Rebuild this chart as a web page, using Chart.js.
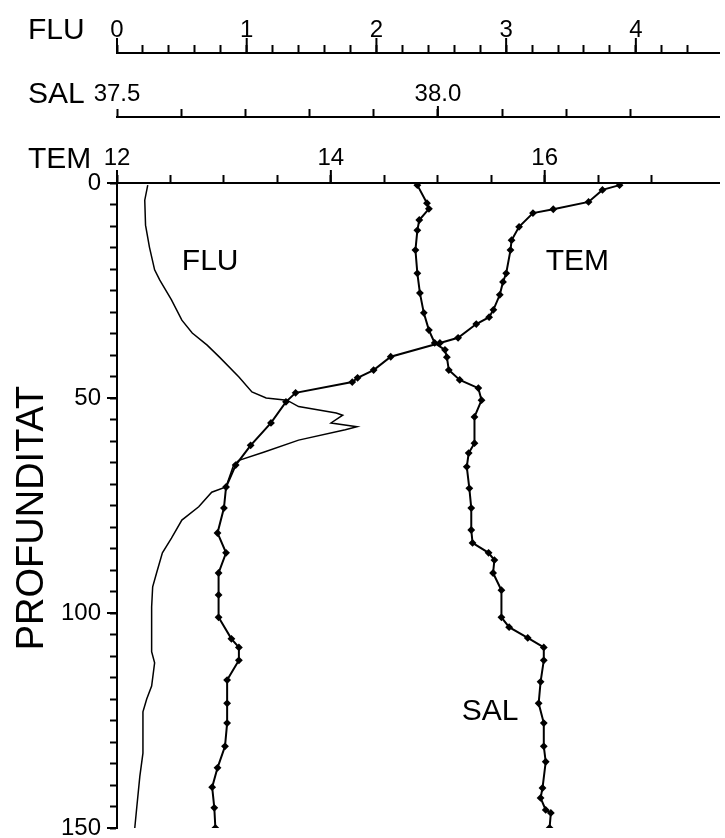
<!DOCTYPE html>
<html>
<head>
<meta charset="utf-8">
<script src="https://cdn.jsdelivr.net/npm/chart.js@4.4.1/dist/chart.umd.min.js"></script>
<style>
html, body { margin: 0; padding: 0; background: #fff; }
#wrap { width: 725px; height: 838px; position: relative; }
</style>
</head>
<body>
<div id="wrap"><canvas id="mycanvas"></canvas></div>
<script>
// temperature profile
var temDepth = [0.5, 1.6, 4.4, 6.1, 7.0, 10.2, 13.3, 15.6, 21.0, 23.0, 26.0, 29.5, 31.2, 32.8, 36.0, 37.2, 40.4, 43.5, 45.3, 46.3, 48.8, 50.9, 55.8, 61.0, 65.6, 70.7, 75.6, 81.4, 86.0, 90.7, 95.8, 101.0, 106.0, 108.0, 111.0, 115.6, 121.0, 125.6, 131.0, 136.0, 140.5, 145.3, 150.0];
var temValue = [16.70, 16.54, 16.41, 16.08, 15.89, 15.76, 15.69, 15.68, 15.64, 15.61, 15.58, 15.52, 15.48, 15.36, 15.19, 15.02, 14.56, 14.40, 14.25, 14.20, 13.67, 13.58, 13.44, 13.25, 13.11, 13.02, 13.00, 12.94, 13.02, 12.95, 12.95, 12.95, 13.07, 13.14, 13.14, 13.03, 13.03, 13.03, 13.01, 12.94, 12.89, 12.91, 12.92];

// salinity profile
var salDepth = [0.5, 4.7, 6.0, 8.6, 11.0, 15.6, 21.0, 25.6, 30.2, 34.2, 37.2, 38.8, 40.5, 43.5, 45.8, 47.7, 50.5, 54.4, 60.5, 62.8, 66.0, 71.0, 75.6, 80.7, 83.7, 86.0, 87.7, 90.7, 94.7, 101.0, 103.3, 105.8, 108.0, 111.0, 116.0, 121.0, 125.6, 131.0, 134.6, 140.7, 143.0, 145.8, 146.5, 150.0];
var salValue = [37.968, 37.983, 37.986, 37.971, 37.968, 37.965, 37.968, 37.972, 37.978, 37.986, 37.995, 38.011, 38.014, 38.017, 38.034, 38.063, 38.068, 38.057, 38.057, 38.048, 38.045, 38.049, 38.052, 38.052, 38.054, 38.079, 38.088, 38.086, 38.099, 38.099, 38.111, 38.140, 38.165, 38.165, 38.160, 38.157, 38.165, 38.165, 38.168, 38.163, 38.160, 38.168, 38.176, 38.174];

// fluorescence profile
var fluDepth = [0.5, 4.0, 9.8, 14.9, 20.2, 22.6, 27.2, 31.9, 34.9, 37.7, 40.5, 45.1, 48.6, 50.0, 50.5, 52.0, 53.5, 54.0, 55.8, 56.7, 57.4, 59.8, 62.6, 64.5, 65.5, 70.7, 71.9, 75.3, 78.4, 82.6, 86.0, 90.7, 93.9, 98.6, 109.0, 111.6, 117.0, 120.0, 123.0, 132.6, 138.0, 145.0, 150.0];
var fluValue = [0.237, 0.214, 0.22, 0.25, 0.29, 0.33, 0.42, 0.50, 0.58, 0.695, 0.79, 0.94, 1.04, 1.15, 1.31, 1.40, 1.69, 1.74, 1.65, 1.85, 1.76, 1.40, 1.13, 0.94, 0.90, 0.84, 0.73, 0.63, 0.50, 0.42, 0.35, 0.305, 0.275, 0.267, 0.267, 0.29, 0.267, 0.229, 0.20, 0.20, 0.176, 0.153, 0.137];

// labelled ticks
var fluTicks = [0, 1, 2, 3, 4];
var salTicks = [37.5, 38.0];
var temTicks = [12, 14, 16];
var depthTicks = [0, 50, 100, 150];

// curve names written inside the plot
var curveNames = ['FLU', 'TEM', 'SAL'];
var curveAxis = ['xFlu', 'xTem', 'xSal'];
var curveX = [0.50, 16.01, 38.037];
var curveDepth = [20.2, 20.2, 124.9];

function pts(d, v) {
	var out = [];
	for (var i in d) out.push({x: v[i], y: d[i]});
	return out;
}
function near(v, list) {
	for (var i in list) if (Math.abs(v - list[i]) < 1e-6) return true;
	return false;
}
function keepStep(min, step) {
	return function(scale) {
		scale.ticks = scale.ticks.filter(function(t) {
			var k = (t.value - min) / step;
			return Math.abs(k - Math.round(k)) < 1e-6;
		});
	};
}
function fixHeight(h) {
	return function(scale) {
		scale.height = h;
		scale.paddingLeft = 0;
		scale.paddingRight = 0;
	};
}

Chart.defaults.font.family = "'Liberation Sans', Arial, sans-serif";
Chart.defaults.color = '#000';

var textPlugin = {
	id: 'texts',
	afterDraw: function(chart) {
		var ctx = chart.ctx;
		var sc = chart.scales;
		ctx.save();
		ctx.strokeStyle = '#000';
		ctx.lineWidth = 2;
		ctx.beginPath();
		fluTicks.forEach(function(v) {
			var p = sc.xFlu.getPixelForValue(v);
			ctx.moveTo(p, sc.xFlu.bottom); ctx.lineTo(p, sc.xFlu.bottom - 15);
		});
		[38.0].forEach(function(v) {
			var p = sc.xSal.getPixelForValue(v);
			ctx.moveTo(p, sc.xSal.bottom); ctx.lineTo(p, sc.xSal.bottom - 11);
		});
		temTicks.forEach(function(v) {
			var p = sc.xTem.getPixelForValue(v);
			ctx.moveTo(p, sc.xTem.bottom); ctx.lineTo(p, sc.xTem.bottom - 13);
		});
		depthTicks.forEach(function(v) {
			var p = sc.y.getPixelForValue(v);
			ctx.moveTo(sc.y.right, p); ctx.lineTo(sc.y.right - 10, p);
		});
		ctx.stroke();

		ctx.fillStyle = '#000';
		ctx.font = "30px 'Liberation Sans', Arial, sans-serif";
		ctx.textAlign = 'left';
		ctx.textBaseline = 'alphabetic';
		ctx.fillText('FLU', 28, sc.xFlu.bottom - 14);
		ctx.fillText('SAL', 28, sc.xSal.bottom - 14);
		ctx.fillText('TEM', 28, sc.xTem.bottom - 15);

		for (var i in curveNames) {
			var x = sc[curveAxis[i]].getPixelForValue(curveX[i]);
			var y = sc.y.getPixelForValue(curveDepth[i]);
			ctx.fillText(curveNames[i], x, y);
		}

		ctx.font = "38px 'Liberation Sans', Arial, sans-serif";
		ctx.translate(43, 518);
		ctx.rotate(-Math.PI / 2);
		ctx.textAlign = 'center';
		ctx.fillText('PROFUNDITAT', 0, 0);
		ctx.restore();
	}
};

var gridOpt = {
	drawOnChartArea: false,
	color: '#000',
	tickColor: '#000',
	tickLength: 8,
	tickWidth: 2
};
var borderOpt = {color: '#000', width: 2};

var ctx = document.getElementById('mycanvas');
var chart = new Chart(ctx, {
	type: 'scatter',
	data: {
		datasets: [
		{
			label: 'FLU',
			xAxisID: 'xFlu',
			yAxisID: 'y',
			data: pts(fluDepth, fluValue),
			showLine: true,
			borderColor: '#000',
			borderWidth: 1.5,
			pointRadius: 0
		},
		{
			label: 'SAL',
			xAxisID: 'xSal',
			yAxisID: 'y',
			data: pts(salDepth, salValue),
			showLine: true,
			borderColor: '#000',
			backgroundColor: '#000',
			borderWidth: 2,
			pointStyle: 'rectRot',
			pointRadius: 2.5
		},
		{
			label: 'TEM',
			xAxisID: 'xTem',
			yAxisID: 'y',
			data: pts(temDepth, temValue),
			showLine: true,
			borderColor: '#000',
			backgroundColor: '#000',
			borderWidth: 2,
			pointStyle: 'rectRot',
			pointRadius: 2.5
		}
		]
	},
	options: {
		responsive: true,
		maintainAspectRatio: false,
		animation: false,
		layout: {padding: {top: 0, left: 0, right: 0, bottom: 10}},
		plugins: {legend: {display: false}, tooltip: {enabled: false}},
		scales: {
			xFlu: {
				type: 'linear', position: 'top', weight: 3,
				min: 0, max: 4.641,
				grid: gridOpt, border: borderOpt,
				ticks: {
					stepSize: 0.2, autoSkip: false, maxRotation: 0, padding: 0,
					font: {size: 24},
					callback: function(v) { return near(v, fluTicks) ? String(Math.round(v)) : ''; }
				},
				afterBuildTicks: keepStep(0, 0.2),
				afterFit: fixHeight(53)
			},
			xSal: {
				type: 'linear', position: 'top', weight: 2,
				min: 37.5, max: 38.438,
				grid: gridOpt, border: borderOpt,
				ticks: {
					stepSize: 0.1, autoSkip: false, maxRotation: 0, padding: 0,
					font: {size: 24},
					callback: function(v) { return near(v, salTicks) ? v.toFixed(1) : ''; }
				},
				afterBuildTicks: keepStep(37.5, 0.1),
				afterFit: fixHeight(64)
			},
			xTem: {
				type: 'linear', position: 'top', weight: 1,
				min: 12, max: 17.63,
				grid: gridOpt, border: borderOpt,
				ticks: {
					stepSize: 0.5, autoSkip: false, maxRotation: 0, padding: 2,
					font: {size: 24},
					callback: function(v) { return near(v, temTicks) ? String(v) : ''; }
				},
				afterBuildTicks: keepStep(12, 0.5),
				afterFit: fixHeight(66)
			},
			y: {
				type: 'linear', position: 'left', reverse: true,
				min: 0, max: 150,
				grid: {drawOnChartArea: false, color: '#000', tickColor: '#000', tickLength: 7, tickWidth: 2},
				border: borderOpt,
				ticks: {
					stepSize: 5, autoSkip: false, padding: 9,
					font: {size: 24},
					callback: function(v) { return near(v, depthTicks) ? String(v) : ''; }
				},
				afterFit: function(scale) {
					scale.width = 117;
					scale.paddingTop = 0;
					scale.paddingBottom = 0;
				}
			}
		}
	},
	plugins: [textPlugin]
});
</script>
</body>
</html>
